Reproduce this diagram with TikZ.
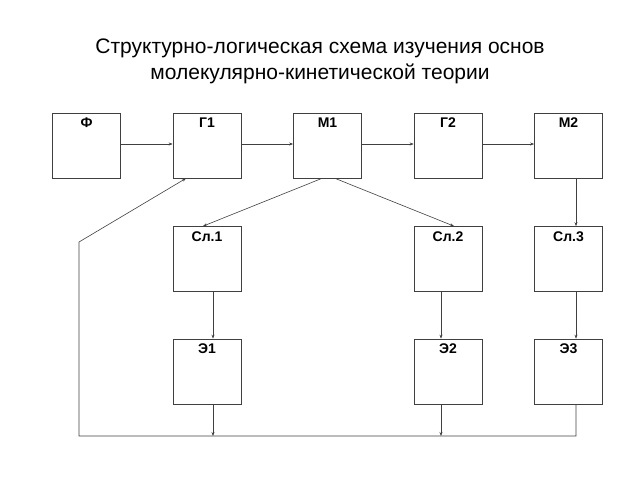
\documentclass[tikz,border=0pt]{standalone}
\usepackage{fontspec}
\setmainfont{Liberation Sans}
\usetikzlibrary{arrows.meta}

\tikzset{
  blk/.style={draw=black!75, line width=0.7pt, minimum width=68pt, inner xsep=0pt, inner ysep=0pt,
    text height=14.5pt, text depth=50.5pt, font=\bfseries\fontsize{14}{16}\selectfont},
  lnk/.style={draw=black!75, line width=0.6pt, -{Stealth[length=4pt,width=3pt]}},
  ttl/.style={align=center, font=\fontsize{21}{26}\selectfont}
}

\begin{document}
\begin{tikzpicture}[x=1pt,y=-1pt]
\useasboundingbox (0,0) rectangle (640,480);
% title
\node[ttl] (title) at (320,61) {Структурно-логическая схема изучения основ\\молекулярно-кинетической теории};
% top row
\node[blk] (f) at (86.5,145.5) {Ф};
\node[blk] (g1) at (207,145.5) {Г1};
\node[blk] (m1) at (327.5,145.5) {М1};
\node[blk] (g2) at (448,145.5) {Г2};
\node[blk] (m2) at (568.5,145.5) {М2};
% second row
\node[blk] (sl1) at (207,259) {Сл.1};
\node[blk] (sl2) at (448,259) {Сл.2};
\node[blk] (sl3) at (568.5,259) {Сл.3};
% third row
\node[blk] (e1) at (207,371.5) {Э1};
\node[blk] (e2) at (448,371.5) {Э2};
\node[blk] (e3) at (568.5,371.5) {Э3};
\coordinate (bl) at (79,436);
\coordinate (kink) at (79,242);
% connections
\draw[lnk] ([yshift=1.5]f.east) -- ([yshift=1.5]g1.west);
\draw[lnk] ([yshift=1.5]g1.east) -- ([yshift=1.5]m1.west);
\draw[lnk] ([yshift=1.5]m1.east) -- ([yshift=1.5]g2.west);
\draw[lnk] ([yshift=1.5]g2.east) -- ([yshift=1.5]m2.west);
\draw[lnk] ([xshift=-5.5]m1.south) -- ([xshift=-4]sl1.north);
\draw[lnk] ([xshift=7.5]m1.south) -- ([xshift=6]sl2.north);
\draw[lnk] ([xshift=7.5]m2.south) -- ([xshift=7.5]sl3.north);
\draw[lnk] ([xshift=6]sl1.south) -- ([xshift=6]e1.north);
\draw[lnk] ([xshift=-7]sl2.south) -- ([xshift=-7]e2.north);
\draw[lnk] ([xshift=7.5]sl3.south) -- ([xshift=7.5]e3.north);
\draw[lnk] ([xshift=6]e1.south) -- ([xshift=6]e1.south |- bl);
\draw[lnk] ([xshift=-7]e2.south) -- ([xshift=-7]e2.south |- bl);
\draw[lnk] ([xshift=7.5]e3.south) |- (bl) -- (kink) -- ([xshift=-21]g1.south);
\end{tikzpicture}
\end{document}
